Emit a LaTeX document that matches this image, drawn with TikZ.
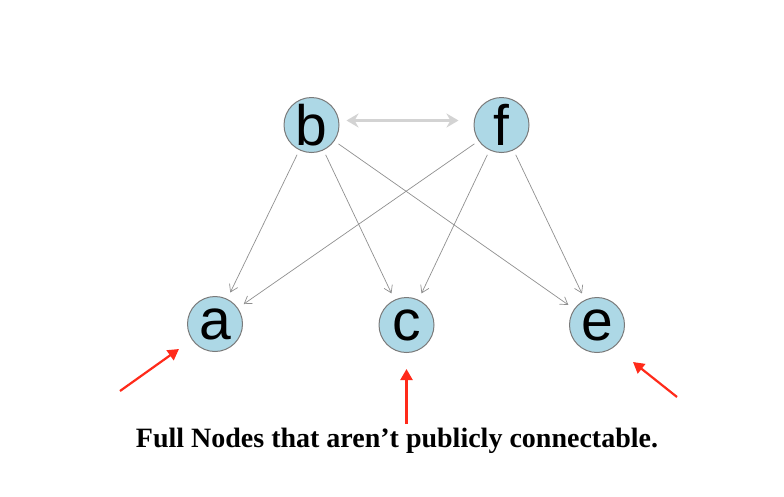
\documentclass[tikz,border=0pt]{standalone}
\usepackage{fontspec}
\setmainfont{Liberation Serif}
\newfontfamily\vertexfont{Liberation Sans}
\usetikzlibrary{arrows.meta}
\definecolor{vertexblue}{HTML}{ADD8E6}
\definecolor{vertexrim}{HTML}{7A7A7A}
\definecolor{edgegray}{HTML}{8F8F8F}
\definecolor{mutualgray}{HTML}{D3D3D3}
\definecolor{pointred}{HTML}{FF2A1A}

\begin{document}
\begin{tikzpicture}[x=1pt,y=-1pt]
    \tikzset{vertex/.style=
        {circle, draw=vertexrim, fill=vertexblue, line width=1pt,
            minimum size=55pt, inner sep=0pt, font=\vertexfont\fontsize{57}{57}\selectfont},
        link/.style={draw=edgegray, line width=0.7pt, shorten <=5pt, shorten >=7pt,
            -{Straight Barb[length=7pt,width=9pt,line width=0.7pt]}},
        mutual/.style={draw=mutualgray, line width=3.2pt, shorten <=7pt, shorten >=15pt,
            {Stealth[length=12pt,width=14pt]}-{Stealth[length=12pt,width=14pt]}},
        pointer/.style={draw=pointred, line width=2.2pt, -{Triangle[length=11pt,width=12pt]}}}
    \useasboundingbox (0,0) rectangle (784,496);
    \node[vertex] (b) at (311.5,125) {b};
    \node[vertex] (f) at (501.5,125) {f};
    \node[vertex] (a) at (215,324) {a};
    \node[vertex] (c) at (406.5,325) {c};
    \node[vertex] (e) at (597,325) {e};
    % edges between the two top vertices and the bottom row
    \draw[mutual] ([yshift=4.5pt]b.east) -- ([yshift=4.5pt]f.west);
    \foreach \from/\to in {b/a, b/c, b/e, f/a, f/c, f/e}
        \draw[link] (\from) -- (\to);
    % red pointers and caption
    \coordinate (atail) at (120,391);
    \coordinate (ctail) at (406.5,424);
    \coordinate (etail) at (677,397);
    \coordinate (ahead) at (179,349);
    \coordinate (chead) at (406.5,369);
    \coordinate (ehead) at (633,362);
    \draw[pointer] (atail) -- (ahead);
    \draw[pointer] (ctail) -- (chead);
    \draw[pointer] (etail) -- (ehead);
    \node[anchor=base, font=\bfseries\fontsize{28}{32}\selectfont, inner sep=0pt] (caption) at (397,447)
        {Full Nodes that aren’t publicly connectable.};
\end{tikzpicture}
\end{document}
